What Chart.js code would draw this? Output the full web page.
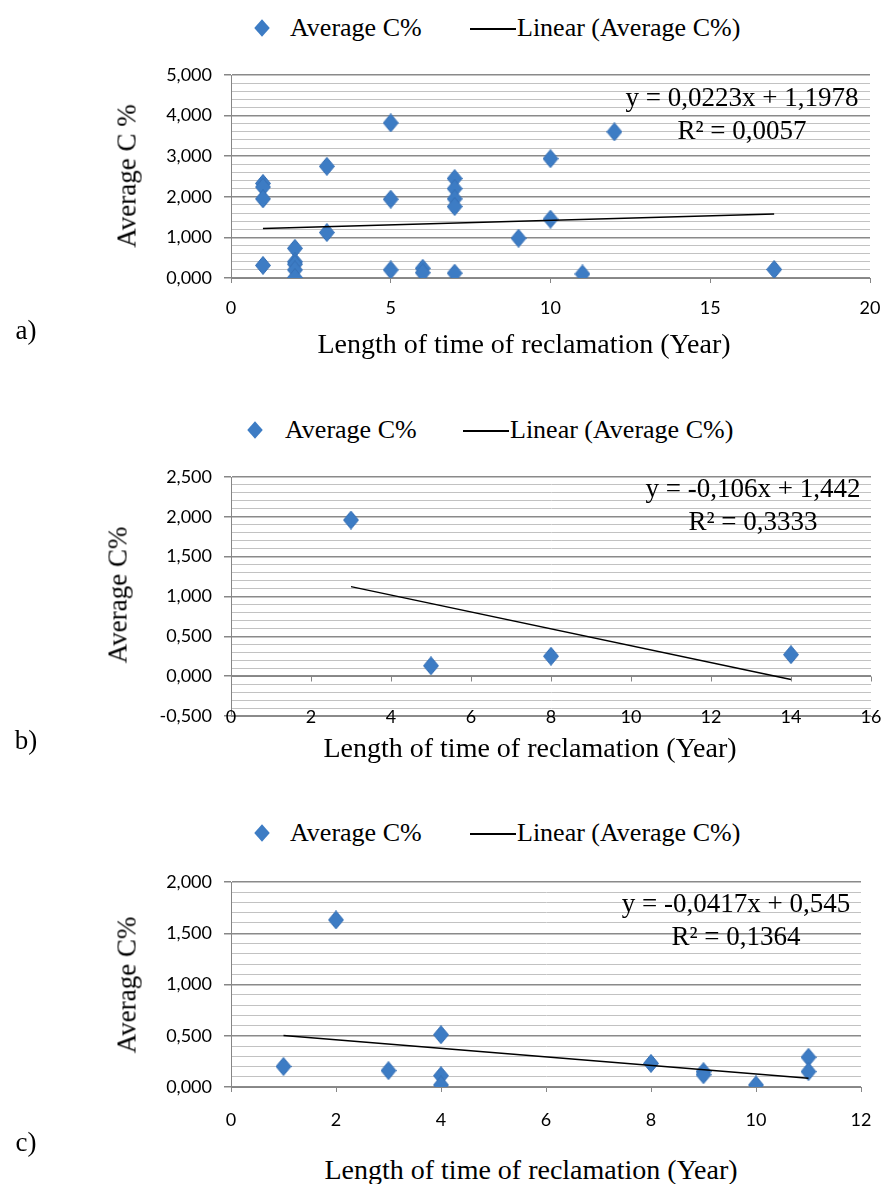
<!DOCTYPE html>
<html>
<head>
<meta charset="utf-8">
<script src="https://cdn.jsdelivr.net/npm/chart.js@4"></script>
<style>
  body { margin: 0; background: #fff; }
  #page { position: relative; width: 884px; height: 1184px; overflow: hidden; background: #fff; }
  canvas { position: absolute; left: 0; }
  .t { position: absolute; font-family: "Liberation Serif", "Times New Roman", serif; color: #000;
       white-space: nowrap; line-height: 1; transform: translate(-50%, -50%); }
  .rot { transform: translate(-50%, -50%) rotate(-90deg); }
  .lt { position: absolute; font-family: "Liberation Serif", "Times New Roman", serif; color: #000;
        white-space: nowrap; line-height: 1; font-size: 26px; transform: translateY(-50%); }
  .dia { position: absolute; width: 11px; height: 11px; background: #3d7cc4; transform: translate(-50%, -50%) scaleY(1.12) rotate(45deg); }
  .ln { position: absolute; height: 1.5px; background: #000; }
  .eq { text-align: center; font-size: 27px; line-height: 33px; }
</style>
</head>
<body>
<div id="page">
  <!-- a) -->
  <div class="dia" style="left:262px;top:28px"></div>
  <div class="lt" style="left:290px;top:28px">Average C%</div>
  <div class="ln" style="left:470px;top:28px;width:46px"></div>
  <div class="lt" style="left:517px;top:28px">Linear (Average C%)</div>
  <canvas id="chartA" width="884" height="270" style="top:60px"></canvas>
  <div class="t rot" style="left:127px;top:176px;font-size:27px">Average C %</div>
  <div class="t eq" style="left:742px;top:114px">y = 0,0223x + 1,1978<br>R² = 0,0057</div>
  <div class="t" style="left:26px;top:330px;font-size:27px">a)</div>
  <div class="t" style="left:524px;top:344px;font-size:28px">Length of time of reclamation (Year)</div>

  <!-- b) -->
  <div class="dia" style="left:255px;top:430px"></div>
  <div class="lt" style="left:285px;top:430px">Average C%</div>
  <div class="ln" style="left:463px;top:430px;width:46px"></div>
  <div class="lt" style="left:510px;top:430px">Linear (Average C%)</div>
  <canvas id="chartB" width="884" height="280" style="top:460px"></canvas>
  <div class="t rot" style="left:118px;top:595px;font-size:27px">Average C%</div>
  <div class="t eq" style="left:753px;top:505px">y = -0,106x + 1,442<br>R² = 0,3333</div>
  <div class="t" style="left:26px;top:740px;font-size:27px">b)</div>
  <div class="t" style="left:530px;top:748px;font-size:28px">Length of time of reclamation (Year)</div>

  <!-- c) -->
  <div class="dia" style="left:262px;top:833px"></div>
  <div class="lt" style="left:290px;top:833px">Average C%</div>
  <div class="ln" style="left:470px;top:833px;width:46px"></div>
  <div class="lt" style="left:517px;top:833px">Linear (Average C%)</div>
  <canvas id="chartC" width="884" height="280" style="top:860px"></canvas>
  <div class="t rot" style="left:127px;top:985px;font-size:27px">Average C%</div>
  <div class="t eq" style="left:736px;top:920px">y = -0,0417x + 0,545<br>R² = 0,1364</div>
  <div class="t" style="left:26px;top:1142px;font-size:27px">c)</div>
  <div class="t" style="left:531px;top:1170px;font-size:28px">Length of time of reclamation (Year)</div>
</div>

<script>
// a) years of reclamation vs average C%
const yearsA = [1, 1, 1, 1, 2, 2, 2, 2, 2, 3, 3, 5, 5, 5, 6, 6, 7, 7, 7, 7, 7, 9, 10, 10, 11, 12, 17];
const carbonA = [2.33, 2.24, 1.95, 0.31, 0.73, 0.40, 0.34, 0.20, 0.01, 2.75, 1.12, 3.82, 1.94, 0.20,
                 0.24, 0.13, 2.45, 2.20, 1.95, 1.76, 0.12, 0.98, 2.94, 1.45, 0.10, 3.60, 0.21];
const trendYearsA = [1, 17];
const trendCarbonA = [1.220, 1.577];

// b)
const yearsB = [3, 5, 8, 14];
const carbonB = [1.96, 0.13, 0.25, 0.27];
const trendYearsB = [3, 14];
const trendCarbonB = [1.124, -0.042];

// c)
const yearsC = [1, 2, 3, 4, 4, 4, 8, 9, 9, 10, 11, 11];
const carbonC = [0.20, 1.63, 0.16, 0.51, 0.11, 0.02, 0.23, 0.15, 0.12, 0.02, 0.29, 0.15];
const trendYearsC = [1, 11];
const trendCarbonC = [0.503, 0.086];

const majorCol = '#8a8a8a';
const minorCol = '#c2c2c2';
const axisCol = '#868686';
const tickFont = { family: 'Lato, "Open Sans", sans-serif', size: 18 };

function fmt(v) {
   return v.toFixed(3).replace('.', ',');
}

function isMajor(v, step) {
   const r = v / step;
   return Math.abs(r - Math.round(r)) < 1e-6;
}

// Excel-like diamond marker, a bit taller than wide
function diamond(w, h) {
   const c = document.createElement('canvas');
   c.width = w;
   c.height = h;
   const g = c.getContext('2d');
   g.fillStyle = '#3d7cc4';
   g.strokeStyle = '#3670b5';
   g.beginPath();
   g.moveTo(w / 2, 0.5);
   g.lineTo(w - 0.5, h / 2);
   g.lineTo(w / 2, h - 0.5);
   g.lineTo(0.5, h / 2);
   g.closePath();
   g.fill();
   g.stroke();
   return c;
}
const marker = diamond(16, 19);

// horizontal axis crossing at zero with tick marks, labels kept at the bottom (panel b)
const zeroAxis = {
   id: 'zeroAxis',
   beforeDatasetsDraw(chart) {
      const { ctx, scales: { x, y } } = chart;
      const yz = Math.round(y.getPixelForValue(0)) + 0.5;
      ctx.save();
      ctx.strokeStyle = axisCol;
      ctx.lineWidth = 1;
      ctx.beginPath();
      ctx.moveTo(x.left, yz);
      ctx.lineTo(x.right, yz);
      x.ticks.forEach(t => {
         const px = Math.round(x.getPixelForValue(t.value)) + 0.5;
         ctx.moveTo(px, yz);
         ctx.lineTo(px, yz + 5);
      });
      ctx.stroke();
      ctx.restore();
   },
   afterDraw(chart) {
      const { ctx, scales: { x, y } } = chart;
      ctx.save();
      ctx.font = '18px Lato, "Open Sans", sans-serif';
      ctx.fillStyle = '#000';
      ctx.textAlign = 'center';
      ctx.textBaseline = 'middle';
      x.ticks.forEach(t => {
         ctx.fillText(String(t.value), x.getPixelForValue(t.value), y.bottom + 1);
      });
      ctx.restore();
   }
};

function makeChart(id, xs, ys, tx, ty, cfg) {
   const pts = xs.map((x, i) => ({ x: x, y: ys[i] }));
   const trend = tx.map((x, i) => ({ x: x, y: ty[i] }));

   return new Chart(document.getElementById(id), {
      type: 'scatter',
      data: {
         datasets: [
            {
               label: 'Linear (Average C%)',
               type: 'line',
               data: trend,
               borderColor: '#000',
               borderWidth: 1.4,
               pointRadius: 0,
               fill: false
            },
            {
               label: 'Average C%',
               data: pts,
               pointStyle: marker,
               pointRadius: 8
            }
         ]
      },
      options: {
         responsive: false,
         animation: false,
         layout: { padding: { top: cfg.padTop, right: cfg.padRight, left: 0, bottom: 0 } },
         plugins: { legend: { display: false }, tooltip: { enabled: false } },
         scales: {
            x: {
               type: 'linear',
               min: 0,
               max: cfg.xMax,
               ticks: { display: cfg.xLabels, stepSize: cfg.xStep, font: tickFont, color: '#000', padding: cfg.xPad, maxRotation: 0 },
               grid: { drawOnChartArea: false, drawTicks: cfg.xTicks, tickLength: 5, color: axisCol },
               border: { color: cfg.xBorder || axisCol },
               afterFit: s => {
                  s.height = cfg.xH;
                  s.paddingLeft = 0;
                  s.paddingRight = 0;
               }
            },
            y: {
               min: cfg.yMin,
               max: cfg.yMax,
               ticks: {
                  stepSize: cfg.minor,
                  autoSkip: false,
                  font: tickFont,
                  color: '#000',
                  padding: 12,
                  callback: v => isMajor(v, cfg.major) ? fmt(v) : ''
               },
               grid: {
                  tickLength: 7,
                  color: c => isMajor(c.tick.value, cfg.major) ? majorCol : minorCol,
                  tickColor: c => isMajor(c.tick.value, cfg.major) ? axisCol : 'rgba(0,0,0,0)',
                  lineWidth: c => isMajor(c.tick.value, cfg.major) ? 1.5 : 1
               },
               border: { color: axisCol },
               afterFit: s => {
                  s.width = 231;
                  s.paddingTop = 0;
                  s.paddingBottom = 0;
               }
            }
         }
      },
      plugins: cfg.extra || []
   });
}

makeChart('chartA', yearsA, carbonA, trendYearsA, trendCarbonA, {
   padTop: 15, padRight: 14, xMax: 20, xStep: 5, xH: 52, xPad: 14, xTicks: true, xLabels: true,
   yMin: 0, yMax: 5, minor: 0.2, major: 1
});

makeChart('chartB', yearsB, carbonB, trendYearsB, trendCarbonB, {
   padTop: 17, padRight: 13, xMax: 16, xStep: 2, xH: 24, xPad: 0, xTicks: false, xLabels: false,
   yMin: -0.5, yMax: 2.5, minor: 0.1, major: 0.5, xBorder: majorCol, extra: [zeroAxis]
});

makeChart('chartC', yearsC, carbonC, trendYearsC, trendCarbonC, {
   padTop: 22, padRight: 23, xMax: 12, xStep: 2, xH: 53, xPad: 17, xTicks: true, xLabels: true,
   yMin: 0, yMax: 2, minor: 0.1, major: 0.5
});
</script>
</body>
</html>
